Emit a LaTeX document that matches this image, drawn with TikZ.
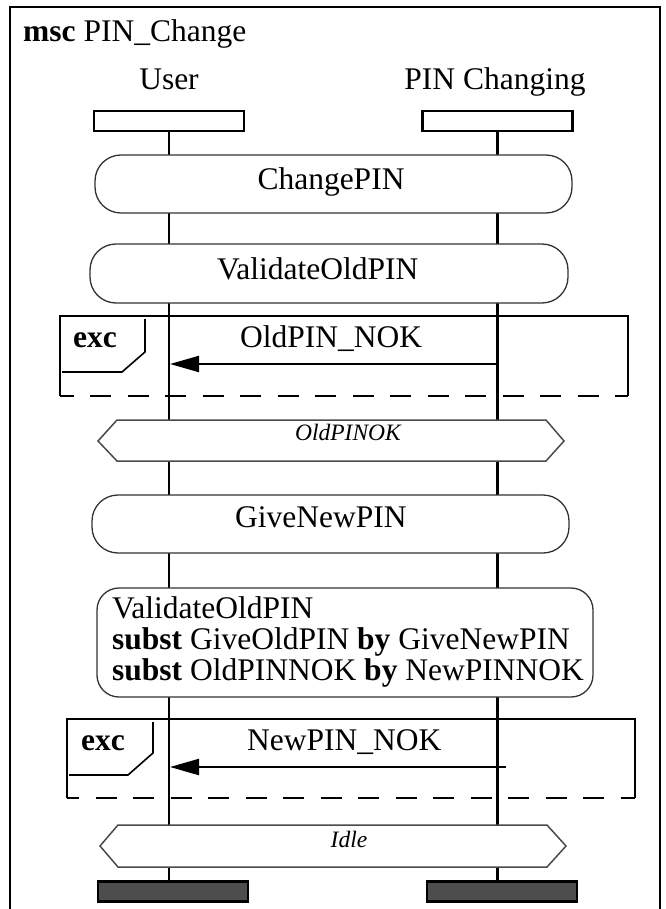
\documentclass[tikz,border=0pt]{standalone}
\usepackage{fontspec}
\setmainfont{Liberation Serif}
\usetikzlibrary{arrows.meta}
\definecolor{endgray}{HTML}{4D4D4D}
\definecolor{boxgray}{HTML}{333333}
\definecolor{hexgray}{HTML}{4A4A4A}
\begin{document}
\begin{tikzpicture}[x=1pt,y=-1pt,
  txt/.style={font=\fontsize{31.5}{31}\selectfont, inner sep=0pt},
  cond/.style={font=\fontsize{23.5}{24}\selectfont\itshape, inner sep=0pt},
  headbox/.style={draw, line width=2.4pt, minimum width=150pt, minimum height=20pt, inner sep=0pt},
  endbox/.style={headbox, fill=endgray},
  rbox/.style={draw=boxgray, line width=1.3pt, fill=white, rounded corners=26pt, inner sep=0pt},
  life/.style={line width=2.2pt},
  framel/.style={line width=2.5pt},
  excdash/.style={dash pattern=on 21pt off 16.5pt},
  exctab/.style={line width=1.6pt},
  condhex/.style={draw=hexgray, line width=1.5pt, fill=white},
  msg/.style={line width=2.2pt, -{Triangle[length=29pt,width=16pt]}}
]
\useasboundingbox (0,0) rectangle (665,909);
% outer frame
\draw[framel] (10,912) -- (10,7) -- (660,7) -- (660,912);
\node[txt, anchor=base west] (title) at (23,42) {\textbf{msc} PIN\_Change};
% instance heads
\node[txt, anchor=base] (userlbl) at (169,90) {User};
\node[txt, anchor=base] (pinlbl) at (495,90) {PIN Changing};
\node[headbox] (userhead) at (169,121) {};
\node[headbox] (pinhead) at (497.5,121) {};
% instance ends
\node[endbox] (userend) at (173,891.5) {};
\node[endbox] (pinend) at (502,891.5) {};
% lifelines
\draw[life] (userhead.south) -- (userhead.south |- userend.north);
\draw[life] (pinhead.south) -- (pinhead.south |- pinend.north);
% ChangePIN
\node[rbox, minimum width=477pt, minimum height=58pt] (changepin) at (333.5,184) {};
\node[txt, anchor=base] (changepinlbl) at (331,190) {ChangePIN};
% ValidateOldPIN
\node[rbox, minimum width=478pt, minimum height=59pt] (validate) at (329,273.5) {};
\node[txt, anchor=base west] (validatelbl) at (217,279) {ValidateOldPIN};
% exc 1
\draw[framel] (60,396) -- (60,316) -- (628,316) -- (628,396);
\draw[framel, excdash, dash phase=7.5pt] (60,396) -- (628,396);
\draw[exctab] (145,319) -- (145,352) -- (122,372) -- (62,372);
\node[txt, anchor=base west] (exca) at (73,347) {\textbf{exc}};
\node[txt, anchor=base west] (msgalbl) at (240,347) {OldPIN\_NOK};
\coordinate (msgas) at (498,364);
\coordinate (msgae) at (170,364);
\draw[msg] (msgas) -- (msgae);
% condition OldPINOK
\draw[condhex] (98,441) -- (117,420) -- (546,420) -- (564,441) -- (546,461) -- (117,461) -- cycle;
\node[cond, anchor=base] (condalbl) at (348,440) {OldPINOK};
% GiveNewPIN
\node[rbox, minimum width=477pt, minimum height=58pt] (givenew) at (330.5,524) {};
\node[txt, anchor=base west] (givenewlbl) at (235,527) {GiveNewPIN};
% reference with substitution
\node[rbox, rounded corners=22pt, minimum width=496pt, minimum height=109pt] (refbox) at (345,642.5) {};
\node[txt, anchor=base west] (refl1) at (112,618) {ValidateOldPIN};
\node[txt, anchor=base west] (refl2) at (112,649) {\textbf{subst} GiveOldPIN \textbf{by} GiveNewPIN};
\node[txt, anchor=base west] (refl3) at (112,680) {\textbf{subst} OldPINNOK \textbf{by} NewPINNOK};
% exc 2
\draw[framel] (67,798) -- (67,719) -- (635,719) -- (635,798);
\draw[framel, excdash, dash phase=9pt] (67,798) -- (635,798);
\draw[exctab] (153,722) -- (153,753) -- (128,775) -- (69,775);
\node[txt, anchor=base west] (excb) at (81,750) {\textbf{exc}};
\node[txt, anchor=base west] (msgblbl) at (247,750) {NewPIN\_NOK};
\coordinate (msgbs) at (506,767);
\coordinate (msgbe) at (170,767);
\draw[msg] (msgbs) -- (msgbe);
% condition Idle
\draw[condhex] (100,846) -- (118,825) -- (547,825) -- (566,846) -- (547,867) -- (118,867) -- cycle;
\node[cond, anchor=base] (condblbl) at (349,847) {Idle};
\end{tikzpicture}
\end{document}
